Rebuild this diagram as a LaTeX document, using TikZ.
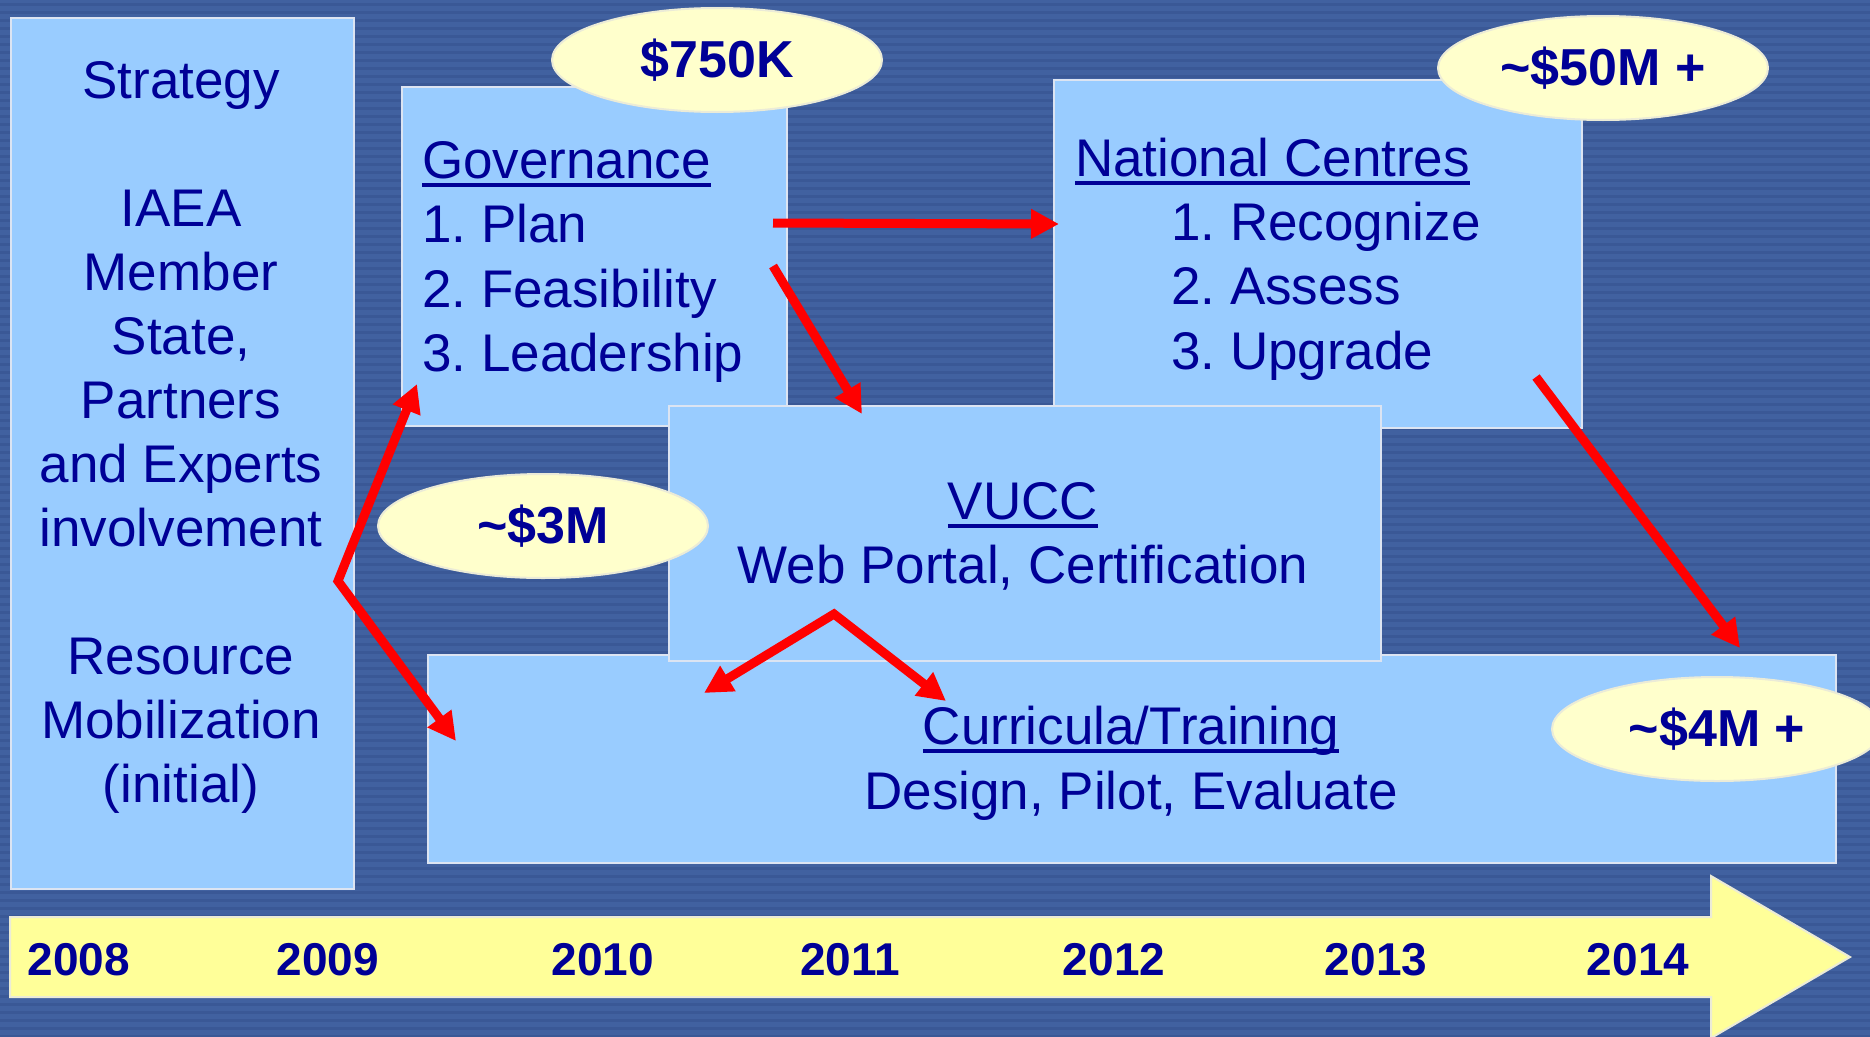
\documentclass[tikz,border=0pt]{standalone}
\usepackage{fontspec}
\setmainfont{Liberation Sans}
\usetikzlibrary{shapes.geometric,arrows.meta}
\definecolor{bgblue}{RGB}{65,97,160}
\definecolor{bgstripe}{RGB}{58,88,150}
\definecolor{boxblue}{RGB}{153,204,255}
\definecolor{boxline}{RGB}{220,228,242}
\definecolor{navy}{RGB}{0,0,150}
\definecolor{ovalfill}{RGB}{255,255,204}
\definecolor{ovalline}{RGB}{235,235,215}
\definecolor{tlyellow}{RGB}{255,255,153}
\newcommand\ulin[1]{\setbox0=\hbox{#1}\rlap{\vrule height -5pt depth 8.5pt width \wd0}\box0}
\frenchspacing
\begin{document}
\begin{tikzpicture}[x=1pt,y=-1pt,
  box/.style={draw=boxline,line width=2pt,fill=boxblue,rectangle,inner sep=0pt,anchor=north west},
  oval/.style={draw=ovalline,line width=2pt,fill=ovalfill,ellipse,inner sep=0pt,minimum width=330pt,minimum height=104pt,text=navy,font=\fontsize{52}{60}\selectfont\bfseries},
  txt/.style={text=navy,inner sep=0pt,font=\fontsize{53}{64}\selectfont},
  yr/.style={text=navy,inner sep=0pt,anchor=base,font=\fontsize{46}{52}\selectfont\bfseries},
  redarr/.style={draw=red,line width=9pt,line join=miter,-{Triangle[length=28pt,width=28pt]}},
  redarr2/.style={draw=red,line width=9pt,line join=miter,{Triangle[length=28pt,width=28pt]}-{Triangle[length=28pt,width=28pt]}}
]
\useasboundingbox (0,0) rectangle (1870,1036);
\fill[bgblue] (0,0) rectangle (1870,1036);
\foreach \s in {3,11,...,1036} {\fill[bgstripe] (0,\s) rectangle (1870,\s+3);}
% boxes
\node[box,minimum width=343pt,minimum height=871pt] (strat) at (10,17) {};
\node[box,minimum width=385pt,minimum height=339pt] (gov) at (401,86) {};
\node[box,minimum width=528pt,minimum height=348pt] (nat) at (1053,79) {};
\node[box,minimum width=1408pt,minimum height=208pt] (cur) at (427,654) {};
\node[box,minimum width=712pt,minimum height=255pt] (vucc) at (668,405) {};
% ovals
\node[oval] (o750) at (717,60) {\$750K};
\node[oval] (o50) at (1603,68) {\textasciitilde\$50M +};
\node[oval] (o3) at (543,526) {\textasciitilde\$3M};
\node[oval] (o4) at (1717,729) {\textasciitilde\$4M +};
% left text
\node[txt,anchor=base] (s1) at (181,98) {Strategy};
\node[txt,anchor=base] (s2) at (181,226) {IAEA};
\node[txt,anchor=base] (s3) at (181,290) {Member};
\node[txt,anchor=base] (s4) at (181,354) {State,};
\node[txt,anchor=base] (s5) at (181,418) {Partners};
\node[txt,anchor=base] (s6) at (181,482) {and Experts};
\node[txt,anchor=base] (s7) at (181,546) {involvement};
\node[txt,anchor=base] (s8) at (181,674) {Resource};
\node[txt,anchor=base] (s9) at (181,738) {Mobilization};
\node[txt,anchor=base] (s10) at (181,802) {(initial)};
% governance text
\node[txt,anchor=base west] (g0) at (422,178) {\ulin{Governance}};
\node[txt,anchor=base west] (g1) at (422,242) {1. Plan};
\node[txt,anchor=base west] (g2) at (422,307) {2. Feasibility};
\node[txt,anchor=base west] (g3) at (422,371) {3. Leadership};
% national text
\node[txt,anchor=base west] (n0) at (1075,176) {\ulin{National Centres}};
\node[txt,anchor=base west] (n1) at (1171,240) {1. Recognize};
\node[txt,anchor=base west] (n2) at (1171,304) {2. Assess};
\node[txt,anchor=base west] (n3) at (1171,369) {3. Upgrade};
% vucc text
\node[txt,anchor=base] (v0) at (1023,519) {\ulin{VUCC}};
\node[txt,anchor=base] (v1) at (1023,583) {Web Portal, Certification};
% curricula text
\node[txt,anchor=base] (c0) at (1131,744) {\ulin{Curricula/Training}};
\node[txt,anchor=base] (c1) at (1131,809) {Design, Pilot, Evaluate};
% red arrows
\coordinate (ga) at (773,223);
\coordinate (na) at (1059,224);
\coordinate (gb) at (773,266);
\coordinate (vb) at (862,414);
\coordinate (bend) at (338,581);
\coordinate (gt) at (417,384);
\coordinate (ct) at (456,741);
\coordinate (apex) at (834,614);
\coordinate (cl) at (704,693);
\coordinate (cr) at (946,701);
\coordinate (ns) at (1536,377);
\coordinate (ce) at (1740,648);
\draw[redarr] (ga) -- (na);
\draw[redarr] (gb) -- (vb);
\draw[redarr2] (gt) -- (bend) -- (ct);
\draw[redarr2] (cl) -- (apex) -- (cr);
\draw[redarr] (ns) -- (ce);
% timeline arrow
\filldraw[fill=tlyellow,draw=ovalline,line width=2pt] (10,917) -- (1711,917) -- (1711,876) -- (1850,957) -- (1711,1038) -- (1711,997) -- (10,997) -- cycle;
\node[yr] (y08) at (79,975) {2008};
\node[yr] (y09) at (328,975) {2009};
\node[yr] (y10) at (603,975) {2010};
\node[yr] (y11) at (850,975) {2011};
\node[yr] (y12) at (1114,975) {2012};
\node[yr] (y13) at (1376,975) {2013};
\node[yr] (y14) at (1638,975) {2014};
\end{tikzpicture}
\end{document}
